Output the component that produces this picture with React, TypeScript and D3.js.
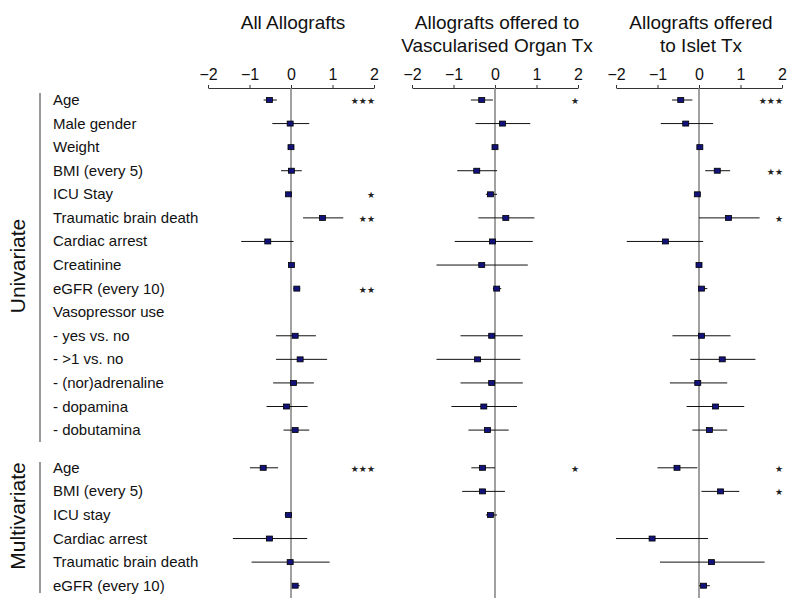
import React, { useEffect, useRef } from "react";
import * as d3 from "d3";

// row labels, univariate block then multivariate block
const uniLabels = [
  "Age", "Male gender", "Weight", "BMI (every 5)", "ICU Stay", "Traumatic brain death",
  "Cardiac arrest", "Creatinine", "eGFR (every 10)", "Vasopressor use", "- yes vs. no",
  "- >1 vs. no", "- (nor)adrenaline", "- dopamina", "- dobutamina",
];
const multiLabels = [
  "Age", "BMI (every 5)", "ICU stay", "Cardiac arrest", "Traumatic brain death", "eGFR (every 10)",
];

const titles = [
  ["All Allografts"],
  ["Allografts offered to", "Vascularised Organ Tx"],
  ["Allografts offered", "to Islet Tx"],
];

const ticks = [-2, -1, 0, 1, 2];

// estimates and 95% CI per panel (21 rows: 15 uni + 6 multi), null = not shown
const est1 = [-0.52, -0.02, 0.0, 0.01, -0.06, 0.76, -0.56, 0.01, 0.14, null, 0.10, 0.22, 0.06, -0.11, 0.10,
  -0.67, null, -0.06, -0.52, -0.02, 0.10];
const lo1 = [-0.66, -0.45, -0.03, -0.24, -0.10, 0.29, -1.2, -0.02, 0.06, null, -0.36, -0.36, -0.43, -0.59, -0.18,
  -0.99, null, -0.15, -1.40, -0.95, 0.04];
const hi1 = [-0.34, 0.44, 0.03, 0.26, -0.02, 1.26, 0.06, 0.03, 0.22, null, 0.60, 0.87, 0.55, 0.40, 0.44,
  -0.31, null, 0.02, 0.39, 0.93, 0.21];

const est2 = [-0.32, 0.18, 0.0, -0.44, -0.11, 0.26, -0.06, -0.32, 0.04, null, -0.08, -0.42, -0.08, -0.27, -0.18,
  -0.30, -0.30, -0.11, null, null, null];
const lo2 = [-0.58, -0.47, -0.03, -0.91, -0.22, -0.40, -0.97, -1.41, -0.05, null, -0.83, -1.41, -0.83, -1.05, -0.64,
  -0.57, -0.79, -0.22, null, null, null];
const hi2 = [-0.05, 0.85, 0.03, 0.05, 0.05, 0.95, 0.91, 0.79, 0.15, null, 0.67, 0.61, 0.67, 0.53, 0.33,
  0.0, 0.24, 0.05, null, null, null];

const est3 = [-0.44, -0.32, 0.02, 0.44, -0.04, 0.71, -0.81, 0.0, 0.06, null, 0.06, 0.56, -0.03, 0.40, 0.25,
  -0.53, 0.52, null, -1.13, 0.30, 0.11];
const lo3 = [-0.65, -0.92, -0.01, 0.15, -0.07, 0.0, -1.74, -0.02, 0.02, null, -0.64, -0.21, -0.70, -0.30, -0.16,
  -1.0, 0.06, null, -2.0, -0.94, 0.0];
const hi3 = [-0.16, 0.34, 0.04, 0.75, 0.03, 1.46, 0.10, 0.02, 0.20, null, 0.76, 1.36, 0.68, 1.09, 0.68,
  -0.04, 0.97, null, 0.22, 1.58, 0.26];

const stars1 = ["***", "", "", "", "*", "**", "", "", "**", "", "", "", "", "", "", "***", "", "", "", "", ""];
const stars2 = ["*", "", "", "", "", "", "", "", "", "", "", "", "", "", "", "*", "", "", "", "", ""];
const stars3 = ["***", "", "", "**", "", "*", "", "", "", "", "", "", "", "", "", "*", "*", "", "", "", ""];

const panels = [
  { est: est1, lo: lo1, hi: hi1, stars: stars1, range: [208, 374] },
  { est: est2, lo: lo2, hi: hi2, stars: stars2, range: [412, 578] },
  { est: est3, lo: lo3, hi: hi3, stars: stars3, range: [616, 782] },
];

const FONT = "'Liberation Sans', Arial, sans-serif";

export default function App() {
  const ref = useRef<SVGSVGElement>(null);

  useEffect(() => {
    const svg = d3.select(ref.current);
    svg.selectAll("*").remove();

    const W = 787, H = 598;
    const axisY = 88;
    // row positions: multivariate block starts after a gap
    const rowPos = (i: number) => (i < uniLabels.length ? i : i + 0.6);
    const y = d3.scaleLinear().domain([0, 20.6]).range([100, 585.7]);
    const labels = [...uniLabels, ...multiLabels];

    // row labels
    svg.append("g")
      .selectAll("text")
      .data(labels)
      .join("text")
      .attr("x", 53)
      .attr("y", (_, i) => y(rowPos(i)) + 5)
      .attr("font-family", FONT)
      .attr("font-size", 15)
      .attr("fill", "#111")
      .text(d => d);

    // group brackets
    svg.append("line").attr("x1", 40).attr("x2", 40).attr("y1", 93).attr("y2", 442)
      .attr("stroke", "#777").attr("stroke-width", 1.5);
    svg.append("line").attr("x1", 40).attr("x2", 40).attr("y1", 462).attr("y2", 593)
      .attr("stroke", "#777").attr("stroke-width", 1.5);

    svg.append("text")
      .attr("transform", "translate(25,266) rotate(-90)")
      .attr("text-anchor", "middle")
      .attr("font-family", FONT).attr("font-size", 21).attr("fill", "#111")
      .text("Univariate");
    svg.append("text")
      .attr("transform", "translate(25,516) rotate(-90)")
      .attr("text-anchor", "middle")
      .attr("font-family", FONT).attr("font-size", 21).attr("fill", "#111")
      .text("Multivariate");

    panels.forEach((p, k) => {
      const x = d3.scaleLinear().domain([-2, 2]).range(p.range);
      const g = svg.append("g");

      // title
      const cx = x(0) + 2;
      titles[k].forEach((t, j) => {
        g.append("text")
          .attr("x", cx).attr("y", 29 + j * 23)
          .attr("text-anchor", "middle")
          .attr("font-family", FONT).attr("font-size", 19).attr("fill", "#111")
          .text(t);
      });

      // axis
      const ax = g.append("g")
        .attr("transform", `translate(0,${axisY})`)
        .call(d3.axisTop(x).tickValues(ticks).tickFormat(d3.format("d")).tickSize(3).tickSizeOuter(0).tickPadding(5));
      ax.select(".domain").attr("stroke", "#333");
      ax.selectAll(".tick line").attr("stroke", "#333");
      ax.selectAll(".tick text")
        .attr("font-family", FONT).attr("font-size", 16).attr("fill", "#111");

      // zero line
      g.append("line")
        .attr("x1", x(0)).attr("x2", x(0))
        .attr("y1", axisY).attr("y2", H)
        .attr("stroke", "#808080").attr("stroke-width", 1.5);

      const rows = p.est.map((e, i) => ({ e, lo: p.lo[i], hi: p.hi[i], s: p.stars[i], i }))
        .filter(r => r.e !== null);

      // CI lines
      g.selectAll("line.ci")
        .data(rows)
        .join("line")
        .attr("class", "ci")
        .attr("x1", d => x(d.lo as number))
        .attr("x2", d => x(d.hi as number))
        .attr("y1", d => y(rowPos(d.i)))
        .attr("y2", d => y(rowPos(d.i)))
        .attr("stroke", "#111").attr("stroke-width", 1);

      // point estimates
      g.selectAll("rect.pt")
        .data(rows)
        .join("rect")
        .attr("class", "pt")
        .attr("x", d => x(d.e as number) - 3)
        .attr("y", d => y(rowPos(d.i)) - 2.5)
        .attr("width", 6).attr("height", 5)
        .attr("fill", "#12127a").attr("stroke", "#000").attr("stroke-width", 0.8);

      // significance stars
      g.selectAll("text.star")
        .data(p.stars.map((s, i) => ({ s, i })).filter(d => d.s))
        .join("text")
        .attr("class", "star")
        .attr("x", x(2) + 1)
        .attr("y", d => y(rowPos(d.i)) + 4)
        .attr("text-anchor", "end")
        .attr("font-family", "'DejaVu Sans', sans-serif")
        .attr("font-size", 9)
        .attr("fill", "#222")
        .text(d => d.s.replace(/\*/g, "★"));
    });

    svg.attr("width", W).attr("height", H);
  }, []);

  return (
    <svg
      ref={ref}
      width={787}
      height={598}
      style={{ position: "absolute", left: 0, top: 0, background: "#fff" }}
    ></svg>
  );
}
